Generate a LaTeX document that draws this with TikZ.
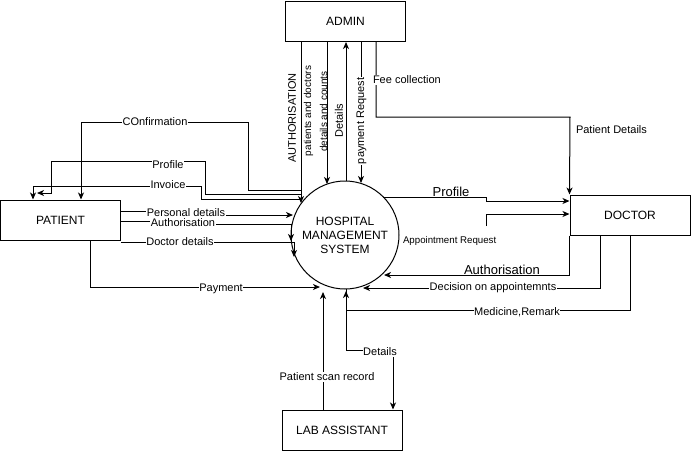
\documentclass[tikz,border=0pt]{standalone}
\usepackage{fontspec}
\setmainfont{Liberation Sans}
\usetikzlibrary{arrows.meta}
\newcommand{\tagsize}{\fontsize{11}{13}\selectfont}
\begin{document}
\begin{tikzpicture}
  [
    x = 1pt, y = -1pt,
    entity/.style   = {shape=rectangle, draw, minimum width=120pt,
                       minimum height=40pt, font=\fontsize{12}{14}\selectfont},
    process/.style  = {shape=circle, draw, minimum size=108pt,
                       align=center, font=\fontsize{12}{14}\selectfont},
    flow/.style     = {draw, line width=1pt,
                       -{Stealth[length=7pt,width=6pt,inset=2pt]}},
    tag/.style      = {fill=white, inner sep=0.5pt, font=\tagsize},
    bigtag/.style   = {tag, font=\fontsize{13}{15}\selectfont},
    smalltag/.style = {tag, font=\fontsize{9.7}{11}\selectfont},
    % labels written bottom to top along the admin flows
    sidetag/.style  = {rotate=90, inner sep=0.5pt, font=\tagsize},
    every node/.style = {line width=1pt}
  ]
  \useasboundingbox (0,0) rectangle (691,451);

  \node [entity]  (admin)   at (345.5,21.5) {ADMIN};
  \node [entity]  (patient) at (60.5,220)   {PATIENT};
  \node [entity]  (doctor)  at (630,215)    {DOCTOR};
  \node [entity]  (lab)     at (342,430)    {LAB ASSISTANT};
  \node [process] (hms)     at (345,235)
        {HOSPITAL\\MANAGEMENT\\SYSTEM};

  % admin
  \draw [flow] (admin.south -| 301,0) -- (301,203)
    node [sidetag] at (292,118) {AUTHORISATION};
  \draw [flow] (admin.south -| 327,0) -- (327,184)
    node [sidetag, font=\fontsize{10}{12}\selectfont] at (308.5,111)
         {patients and doctors}
    node [sidetag, font=\fontsize{10}{12}\selectfont] at (323.5,111.5)
         {details and counts};
  \draw [flow] (346,181) -- (admin.south -| 346,0)
    node [sidetag] at (339,120.5) {Details};
  \draw [flow] (admin.south -| 361,0) -- (361,183)
    node [sidetag, fill=white] at (361.5,121) {payment Request};
  \draw [flow] (admin.south -| 376,0) |- (570,117) -- (doctor.north west)
    node [tag, anchor=west] at (372,80) {Fee collection}
    node [tag, anchor=west] at (575,130) {Patient Details};

  % patient
  \draw [flow] (302,190) -| (248,122) -| (patient.north -| 81,0)
    node [tag] at (155,122) {COnfirmation};
  \draw [flow] (302,194) -| (205,161) -| (51,193) -- (37,193)
    node [tag] at (168,165) {Profile};
  \draw [flow] (302,199) -| (201,186) -| (patient.north -| 33,0)
    node [tag] at (168,185) {Invoice};
  \draw [flow] (patient.east |- 0,211) -- (186,211) -- (186,215) -- (293,215)
    node [tag] at (186,212.5) {Personal details};
  \draw [flow] (patient.east |- 0,221) -- (183,221) -- (183,224) -| (291,241)
    node [tag] at (183,222.5) {Authorisation};
  \draw [flow] (patient.east |- 0,242) -| (294,257)
    node [tag] at (180,242) {Doctor details};
  \draw [flow] (patient.south -| 90,0) |- (320,287)
    node [tag] at (221,289) {Payment};

  % doctor
  \draw [flow] (383,197) -- (486,197) -- (486,201) -- (doctor.west |- 0,201)
    node [bigtag] at (451,192) {Profile};
  \draw [flow] (486,226) |- (doctor.west |- 0,214)
    node [smalltag, anchor=west] at (402,241) {Appointment Request};
  \draw [flow] (doctor.south west) |- (384,275)
    node [bigtag] at (502,270) {Authorisation};
  \draw [flow] (doctor.south -| 600,0) |- (363,288)
    node [tag] at (493,288) {Decision on appointemnts};
  \draw [flow] (doctor.south -| 630,0) |- (346,310) -- (346,291)
    node [tag] at (517,312) {Medicine,Remark};

  % lab assistant
  \draw [flow] (346,289) -- (346,350) -| (lab.north -| 393,0)
    node [tag] at (380,352) {Details};
  \draw [flow] (lab.north -| 323,0) -- (323,292)
    node [tag] at (327,377) {Patient scan record};
\end{tikzpicture}
\end{document}
